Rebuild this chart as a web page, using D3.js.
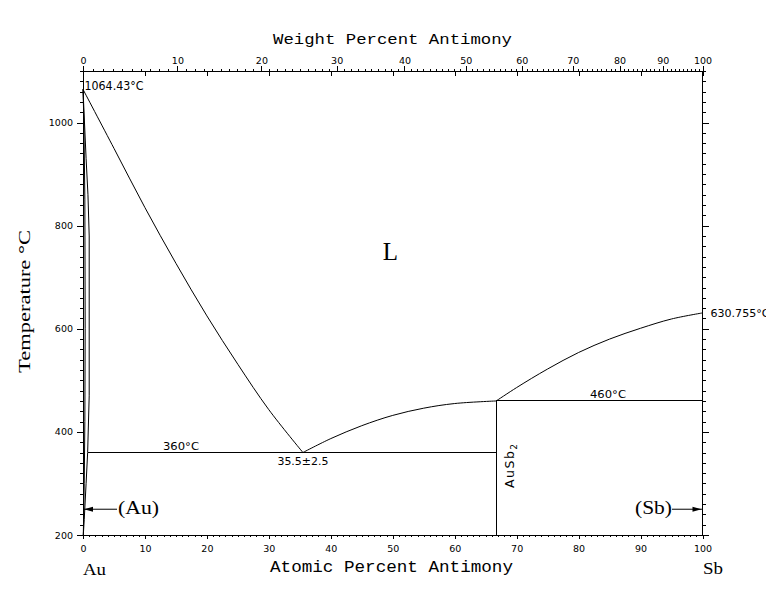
<!DOCTYPE html>
<html><head><meta charset="utf-8">
<script src="https://cdn.jsdelivr.net/npm/d3@7"></script>
<style>body{margin:0;background:#fff}</style>
</head><body>
<svg id="c" width="766" height="602"></svg>
<script>
// ---- data ----
const atTicks = [0,10,20,30,40,50,60,70,80,90,100];
const wtTicks = [0,10,20,30,40,50,60,70,80,90,100];
const tempTicks = [200,400,600,800,1000];
const liquidusAu = [[0,1064.43],[5,950],[10,835],[15,727],[20,625],[25,531],[30,443],[35.5,360]];
const liquidusMid = [[35.5,360],[40,387],[45,412],[50,432],[55,446],[60,455],[66.7,460]];
const liquidusSb = [[66.7,460],[70,486],[75,522],[80,554],[85,580],[90,601],[95,619],[100,630.755]];
const solidusAu = [[0,1064.43],[0.5,930],[0.8,860],[1.0,780],[1.0,470],[0.75,360]];
const solvusAu = [[0.75,360],[0.5,300],[0.2,230],[0.05,200]];
const innerAu = [[0,1064.43],[0.15,1000],[0.3,850],[0.35,600],[0.3,420],[0.2,300],[0.05,200]];
const eutectic = [[0.75,360],[66.7,360]];
const peritectic = [[66.7,460],[100,460]];
const compound = [[66.7,200],[66.7,460]];
const M_AU = 196.97, M_SB = 121.76;

// ---- scales ----
const svg = d3.select("#c");
const x = d3.scaleLinear().domain([0,100]).range([83,702.5]);
const y = d3.scaleLinear().domain([200,1100]).range([535,71]);
const wtToAt = w => { const a = w/M_SB, b = (100-w)/M_AU; return 100*a/(a+b); };
const wtAll = d3.range(0,101,1);
const xw = d3.scaleLinear().domain(wtAll).range(wtAll.map(w => x(wtToAt(w))));

const num = "'DejaVu Sans', 'Liberation Sans', Arial, sans-serif";
function styleAxis(g){
  g.select(".domain").remove();
  g.selectAll("line").attr("stroke","#000").attr("shape-rendering","crispEdges");
  g.selectAll("text").attr("font-family",num).attr("font-size","9.5px").attr("fill","#000");
}

// frame
svg.append("rect").attr("x",x(0)).attr("y",y(1100)).attr("width",x(100)-x(0)).attr("height",y(200)-y(1100))
  .attr("fill","none").attr("stroke","#000").attr("shape-rendering","crispEdges");

// bottom axis
svg.append("g").attr("transform",`translate(0,${y(200)})`)
  .call(d3.axisBottom(x).tickValues(d3.range(0,101,1)).tickSize(2).tickFormat("")).call(styleAxis);
svg.append("g").attr("transform",`translate(0,${y(200)})`)
  .call(d3.axisBottom(x).tickValues(atTicks).tickSize(4).tickPadding(6).tickFormat(d3.format("d"))).call(styleAxis);
// top axis (weight %)
svg.append("g").attr("transform",`translate(0,${y(1100)})`)
  .call(d3.axisTop(xw).tickValues(wtAll).tickSize(2).tickFormat("")).call(styleAxis);
svg.append("g").attr("transform",`translate(0,${y(1100)})`)
  .call(d3.axisTop(xw).tickValues(wtTicks).tickSize(5).tickPadding(2.5).tickFormat(d3.format("d"))).call(styleAxis);
// inward ticks on top at atomic % majors
svg.append("g").attr("transform",`translate(0,${y(1100)})`)
  .call(d3.axisBottom(x).tickValues(atTicks).tickSize(5).tickFormat("")).call(styleAxis);
// left axis
svg.append("g").attr("transform",`translate(${x(0)},0)`)
  .call(d3.axisLeft(y).tickValues(d3.range(200,1101,20)).tickSize(3).tickFormat("")).call(styleAxis);
svg.append("g").attr("transform",`translate(${x(0)},0)`)
  .call(d3.axisLeft(y).tickValues(tempTicks).tickSize(6).tickPadding(4).tickFormat(d3.format("d"))).call(styleAxis);
// right axis
svg.append("g").attr("transform",`translate(${x(100)},0)`)
  .call(d3.axisRight(y).tickValues(d3.range(200,1101,20)).tickSize(3).tickFormat("")).call(styleAxis);
svg.append("g").attr("transform",`translate(${x(100)},0)`)
  .call(d3.axisRight(y).tickValues(tempTicks).tickSize(6).tickFormat("")).call(styleAxis);

// phase boundaries
const lineC = d3.line().x(d=>x(d[0])).y(d=>y(d[1])).curve(d3.curveCatmullRom.alpha(0.5));
const lineL = d3.line().x(d=>x(d[0])).y(d=>y(d[1]));
[liquidusAu, liquidusMid, liquidusSb].forEach(d =>
  svg.append("path").attr("d",lineC(d)).attr("fill","none").attr("stroke","#000").attr("stroke-width",1));
[solidusAu, solvusAu, innerAu].forEach(d =>
  svg.append("path").attr("d",lineL(d)).attr("fill","none").attr("stroke","#000").attr("stroke-width",1));
[eutectic, peritectic, compound].forEach(d =>
  svg.append("path").attr("d",lineL(d)).attr("fill","none").attr("stroke","#000").attr("stroke-width",1).attr("shape-rendering","crispEdges"));

// annotations
function txt(s, px, py, opts={}){
  const t = svg.append("text").attr("x",px).attr("y",py).text(s)
    .attr("font-family",opts.ff||num).attr("font-size",opts.fs||"10.5px").attr("fill","#000")
    .attr("text-anchor",opts.anchor||"start");
  if(opts.len) t.attr("textLength",opts.len).attr("lengthAdjust","spacingAndGlyphs");
  return t;
}
const mono = "'Liberation Mono', 'Courier New', monospace";
const serif = "'Liberation Serif', 'Times New Roman', serif";
txt("1064.43°C", x(0)+1.5, y(1064.43)+1, {len:59, fs:"11.5px"});
txt("630.755°C", x(100)+8, y(630.755)+4, {len:59});
txt("360°C", 163, y(360)-3, {len:36});
txt("460°C", 590, y(460)-3, {len:36});
txt("35.5±2.5", x(35.5), y(360)+12.5, {anchor:"middle", len:51});
// AuSb2 rotated
const ab = svg.append("text").attr("transform",`translate(${x(66.7)+17.5},488) rotate(-90)`)
  .attr("font-family",num).attr("font-size","12.5px").attr("fill","#000");
ab.append("tspan").text("AuSb").attr("letter-spacing","1.5px");
ab.append("tspan").text("2").attr("font-size","9px").attr("dy",3);

txt("L", x(49.6), y(733), {ff:serif, fs:"25px", anchor:"middle"});
txt("(Au)", 118, 514, {ff:serif, fs:"18px", len:41});
txt("(Sb)", 635, 514, {ff:serif, fs:"18px", len:37});
txt("Au", 83, 575, {ff:serif, fs:"17px", len:23});
txt("Sb", 703, 574, {ff:serif, fs:"17px", len:20});

// arrows
function arrow(x1, x2, yy){
  svg.append("line").attr("x1",x1).attr("x2",x2).attr("y1",yy).attr("y2",yy).attr("stroke","#000");
  const dir = Math.sign(x2-x1), tip = x2 - dir*1;
  svg.append("path").attr("d",`M${tip},${yy} L${tip-dir*9},${yy-2.5} L${tip-dir*9},${yy+2.5} Z`).attr("fill","#000");
}
arrow(117, x(0), y(250));
arrow(672, x(100), y(250));

// axis titles
txt("Atomic Percent Antimony", 270, 571.5, {ff:mono, fs:"16px", len:243});
txt("Weight Percent Antimony", 273, 43.5, {ff:mono, fs:"15px", len:239});
svg.append("text").attr("transform",`translate(30,373) rotate(-90)`)
  .attr("font-family",serif).attr("font-size","16px").attr("fill","#000")
  .attr("textLength",143).attr("lengthAdjust","spacingAndGlyphs").text("Temperature °C");
</script>
</body></html>
